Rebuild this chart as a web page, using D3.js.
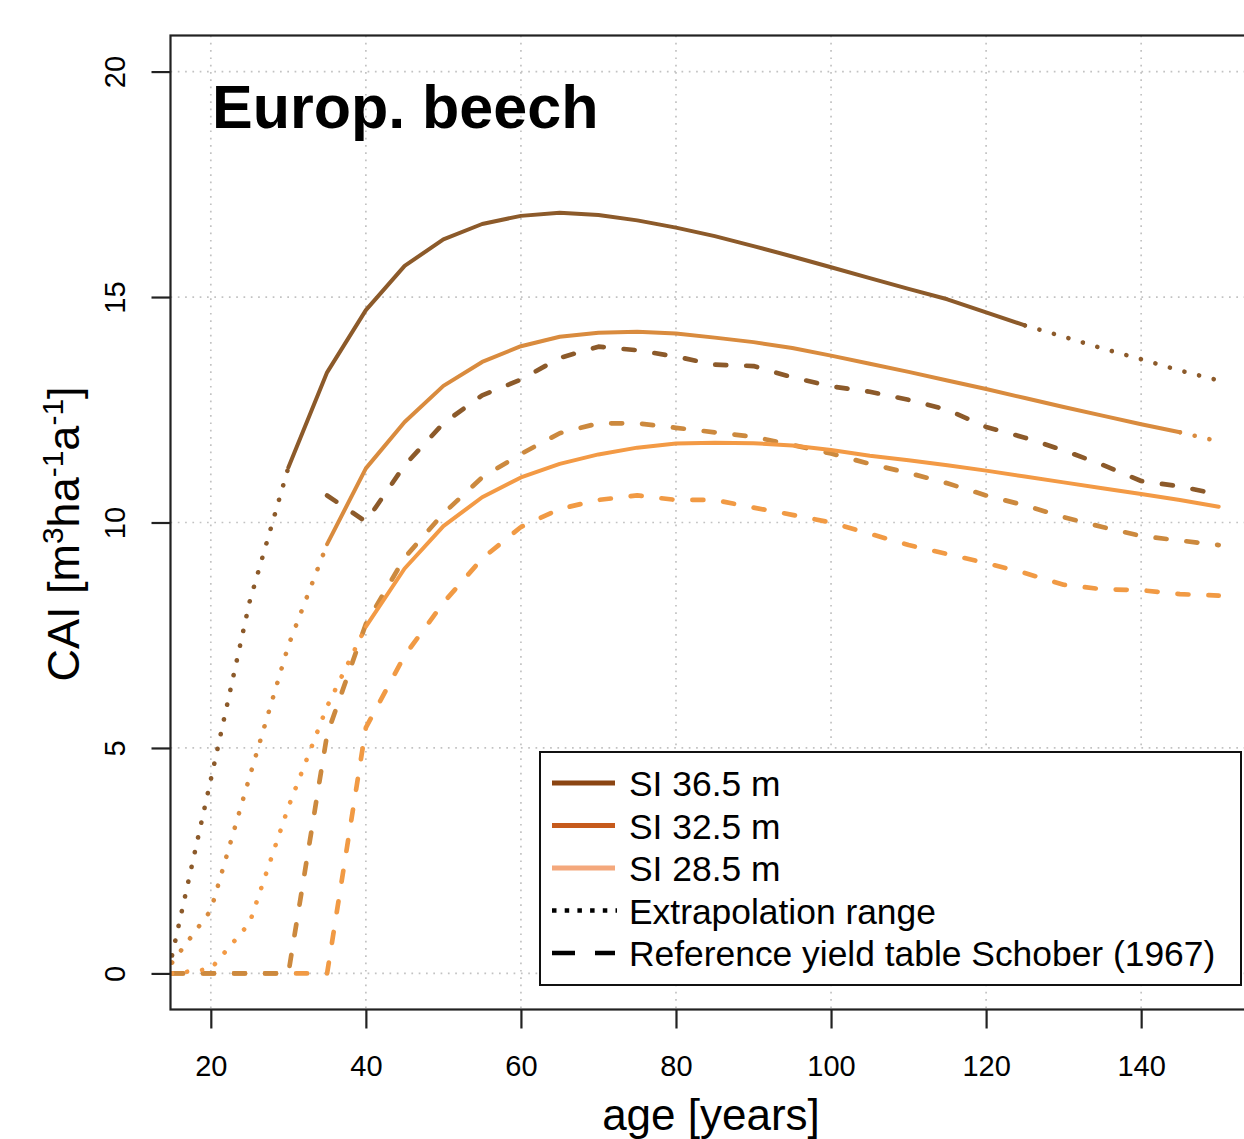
<!DOCTYPE html>
<html>
<head>
<meta charset="utf-8">
<script src="https://cdn.jsdelivr.net/npm/d3@7"></script>
<style>
  body { margin: 0; background: #fff; }
  text { font-family: "Liberation Sans", Arial, sans-serif; }
</style>
</head>
<body>
<svg id="chart" width="1244" height="1139"></svg>
<script>
// axis ticks
const xTicks = [20, 40, 60, 80, 100, 120, 140];
const yTicks = [0, 5, 10, 15, 20];
const xLim = [20, 150];
const yLim = [0, 20];

// SI 36.5 m : fitted range + extrapolation
const si36Age = [30, 35, 40, 45, 50, 55, 60, 65, 70, 75, 80, 85, 90, 95, 100, 105, 110, 115, 120, 125];
const si36Cai = [11.22, 13.33, 14.71, 15.69, 16.28, 16.62, 16.8, 16.87, 16.82, 16.7, 16.54, 16.35, 16.13, 15.9, 15.66, 15.42, 15.18, 14.95, 14.66, 14.37];
const si36LowAge = [15, 20, 25, 30];
const si36LowCai = [0.4, 4.3, 8.24, 11.22];
const si36HighAge = [125, 130, 135, 140, 145, 150];
const si36HighCai = [14.37, 14.12, 13.86, 13.62, 13.37, 13.15];

// SI 32.5 m
const si32Age = [35, 40, 45, 50, 55, 60, 65, 70, 75, 80, 85, 90, 95, 100, 105, 110, 115, 120, 125, 130, 135, 140, 145];
const si32Cai = [9.52, 11.2, 12.23, 13.03, 13.56, 13.91, 14.12, 14.21, 14.23, 14.19, 14.1, 14.0, 13.87, 13.7, 13.52, 13.34, 13.15, 12.96, 12.76, 12.56, 12.37, 12.18, 12.0];
const si32LowAge = [15, 20, 25, 30, 35];
const si32LowCai = [0.24, 1.4, 4.36, 7.27, 9.52];
const si32HighAge = [145, 150];
const si32HighCai = [12.0, 11.8];

// SI 28.5 m
const si28Age = [40, 45, 50, 55, 60, 65, 70, 75, 80, 85, 90, 95, 100, 105, 110, 115, 120, 125, 130, 135, 140, 145, 150];
const si28Cai = [7.69, 8.98, 9.92, 10.56, 11.0, 11.3, 11.51, 11.66, 11.75, 11.77, 11.76, 11.71, 11.61, 11.48, 11.38, 11.27, 11.15, 11.02, 10.89, 10.76, 10.63, 10.5, 10.35];
const si28LowAge = [15, 20, 25, 30, 35, 40];
const si28LowCai = [0, 0.1, 1.12, 3.69, 5.92, 7.69];

// yield table Schober (1967)
const yt36Age = [35, 40, 45, 50, 55, 60, 65, 70, 75, 80, 85, 90, 95, 100, 105, 110, 115, 120, 125, 130, 135, 140, 145, 150];
const yt36Cai = [10.6, 10.02, 11.27, 12.2, 12.82, 13.17, 13.65, 13.9, 13.82, 13.68, 13.5, 13.47, 13.22, 13.02, 12.9, 12.72, 12.5, 12.12, 11.88, 11.6, 11.28, 10.92, 10.8, 10.62];
const yt32Age = [15, 20, 25, 30, 35, 40, 45, 50, 55, 60, 65, 70, 75, 80, 85, 90, 95, 100, 105, 110, 115, 120, 125, 130, 135, 140, 145, 150];
const yt32Cai = [0, 0, 0, 0, 5.3, 7.75, 9.22, 10.2, 11.0, 11.52, 11.98, 12.2, 12.2, 12.1, 12.0, 11.9, 11.72, 11.53, 11.3, 11.1, 10.87, 10.6, 10.38, 10.12, 9.9, 9.7, 9.6, 9.5];
const yt28Age = [15, 20, 25, 30, 35, 40, 45, 50, 55, 60, 65, 70, 75, 80, 85, 90, 95, 100, 105, 110, 115, 120, 125, 130, 135, 140, 145, 150];
const yt28Cai = [0, 0, 0, 0, 0, 5.45, 7.05, 8.22, 9.2, 9.9, 10.3, 10.5, 10.6, 10.5, 10.5, 10.33, 10.17, 10.0, 9.75, 9.5, 9.3, 9.1, 8.88, 8.62, 8.52, 8.5, 8.41, 8.38];

// legend
const legendLabels = ["SI 36.5 m", "SI 32.5 m", "SI 28.5 m", "Extrapolation range", "Reference yield table Schober (1967)"];
const legendColors = ["#8b4513", "#c65a1c", "#f4a87c", "#000", "#000"];
const legendTypes = ["solid", "solid", "solid", "dotted", "dashed"];

const col36 = "#8c5a2a", col32 = "#d98b3e", col28 = "#f39a45";
const col32dash = "#cc893e", col28dash = "#f19a44";

const dashes = {solid: null, dotted: "0.1,15", dashed: "11,20"};

// R style 4% axis extension
function extend(lim) {
  const d = (lim[1] - lim[0]) * 0.04;
  return [lim[0] - d, lim[1] + d];
}

const svg = d3.select("#chart");
const box = {left: 170.5, right: 1259, top: 35.5, bottom: 1009.5};

const x = d3.scaleLinear().domain(extend(xLim)).range([box.left, box.right]);
const y = d3.scaleLinear().domain(extend(yLim)).range([box.bottom, box.top]);

svg.append("rect").attr("width", 1244).attr("height", 1139).attr("fill", "#fff");

svg.append("clipPath").attr("id", "plotclip")
  .append("rect")
  .attr("x", box.left).attr("y", box.top)
  .attr("width", box.right - box.left).attr("height", box.bottom - box.top);

// grid
const grid = svg.append("g")
  .attr("stroke", "#c2c2c2")
  .attr("stroke-width", 1.7)
  .attr("stroke-dasharray", "1.7,5.6");
grid.selectAll(".gx").data(xTicks).enter().append("line")
  .attr("x1", d => x(d)).attr("x2", d => x(d))
  .attr("y1", box.top).attr("y2", box.bottom);
grid.selectAll(".gy").data(yTicks).enter().append("line")
  .attr("y1", d => y(d)).attr("y2", d => y(d))
  .attr("x1", box.left).attr("x2", box.right);

const plot = svg.append("g").attr("clip-path", "url(#plotclip)");

const line = d3.line().x(d => x(d[0])).y(d => y(d[1]));

function drawSeries(ages, vals, color, type, width) {
  plot.append("path")
    .datum(d3.zip(ages, vals))
    .attr("d", line)
    .attr("fill", "none")
    .attr("stroke", color)
    .attr("stroke-width", width)
    .attr("stroke-linecap", "round")
    .attr("stroke-linejoin", "round")
    .attr("stroke-dasharray", dashes[type]);
}

// yield table (dashed)
drawSeries(yt36Age, yt36Cai, col36, "dashed", 4.7);
drawSeries(yt28Age, yt28Cai, col28dash, "dashed", 4.7);
drawSeries(yt32Age, yt32Cai, col32dash, "dashed", 4.7);

// extrapolation (dotted)
drawSeries(si36LowAge, si36LowCai, col36, "dotted", 4.6);
drawSeries(si36HighAge, si36HighCai, col36, "dotted", 4.6);
drawSeries(si32LowAge, si32LowCai, col32, "dotted", 4.6);
drawSeries(si32HighAge, si32HighCai, col32, "dotted", 4.6);
drawSeries(si28LowAge, si28LowCai, col28, "dotted", 4.6);

// fitted model (solid)
drawSeries(si36Age, si36Cai, col36, "solid", 4);
drawSeries(si32Age, si32Cai, col32, "solid", 4);
drawSeries(si28Age, si28Cai, col28, "solid", 4);

// box (right side falls outside the picture)
svg.append("rect")
  .attr("x", box.left).attr("y", box.top)
  .attr("width", box.right - box.left).attr("height", box.bottom - box.top)
  .attr("fill", "none").attr("stroke", "#222").attr("stroke-width", 2.2);

// axes
const xAxis = svg.append("g")
  .attr("transform", `translate(0,${box.bottom})`)
  .call(d3.axisBottom(x).tickValues(xTicks).tickSize(19).tickPadding(27).tickFormat(d3.format("d")));
xAxis.select(".domain").remove();
xAxis.selectAll("line").attr("stroke", "#222").attr("stroke-width", 2.2);
xAxis.selectAll("text").attr("font-size", 29).attr("fill", "#000")
  .attr("font-family", '"Liberation Sans", Arial, sans-serif');

const yAxis = svg.append("g")
  .attr("transform", `translate(${box.left},0)`)
  .call(d3.axisLeft(y).tickValues(yTicks).tickSize(19).tickFormat(d3.format("d")));
yAxis.select(".domain").remove();
yAxis.selectAll("line").attr("stroke", "#222").attr("stroke-width", 2.2);
yAxis.selectAll("text")
  .attr("font-size", 29).attr("fill", "#000")
  .attr("font-family", '"Liberation Sans", Arial, sans-serif')
  .attr("text-anchor", "middle")
  .attr("x", 0).attr("y", -46).attr("dy", 0)
  .attr("transform", "rotate(-90)");

// axis titles
svg.append("text")
  .attr("x", (x(20) + x(140)) / 2 + 35).attr("y", 1130)
  .attr("text-anchor", "middle").attr("font-size", 44)
  .text("age [years]");

const yt = svg.append("text")
  .attr("transform", "translate(79,534) rotate(-90)")
  .attr("text-anchor", "middle").attr("font-size", 45);
yt.append("tspan").text("CAI [m");
yt.append("tspan").attr("font-size", 30).attr("dy", -16).text("3");
yt.append("tspan").attr("dy", 16).text("ha");
yt.append("tspan").attr("font-size", 30).attr("dy", -16).text("-1");
yt.append("tspan").attr("dy", 16).text("a");
yt.append("tspan").attr("font-size", 30).attr("dy", -16).text("-1");
yt.append("tspan").attr("dy", 16).text("]");

// panel title
svg.append("text")
  .attr("x", 212).attr("y", 128)
  .attr("font-size", 61).attr("font-weight", "bold")
  .text("Europ. beech");

// legend
const lg = svg.append("g");
lg.append("rect")
  .attr("x", 540).attr("y", 752).attr("width", 701).attr("height", 233)
  .attr("fill", "#fff").attr("stroke", "#111").attr("stroke-width", 2);

const legendDash = {solid: null, dotted: "4.5,8.2", dashed: "23,20"};
const rows = lg.selectAll(".row").data(legendLabels).enter().append("g")
  .attr("transform", (d, i) => `translate(0,${783 + i * 42.5})`);
rows.append("line")
  .attr("x1", 552)
  .attr("x2", (d, i) => legendTypes[i] === "dotted" ? 617 : 615)
  .attr("y1", 0).attr("y2", 0)
  .attr("stroke", (d, i) => legendColors[i])
  .attr("stroke-width", (d, i) => legendTypes[i] === "solid" ? 5 : 4.5)
  .attr("stroke-dasharray", (d, i) => legendDash[legendTypes[i]]);
rows.append("text")
  .attr("x", 629).attr("y", 13)
  .attr("font-size", 35.4)
  .text(d => d);
</script>
</body>
</html>
